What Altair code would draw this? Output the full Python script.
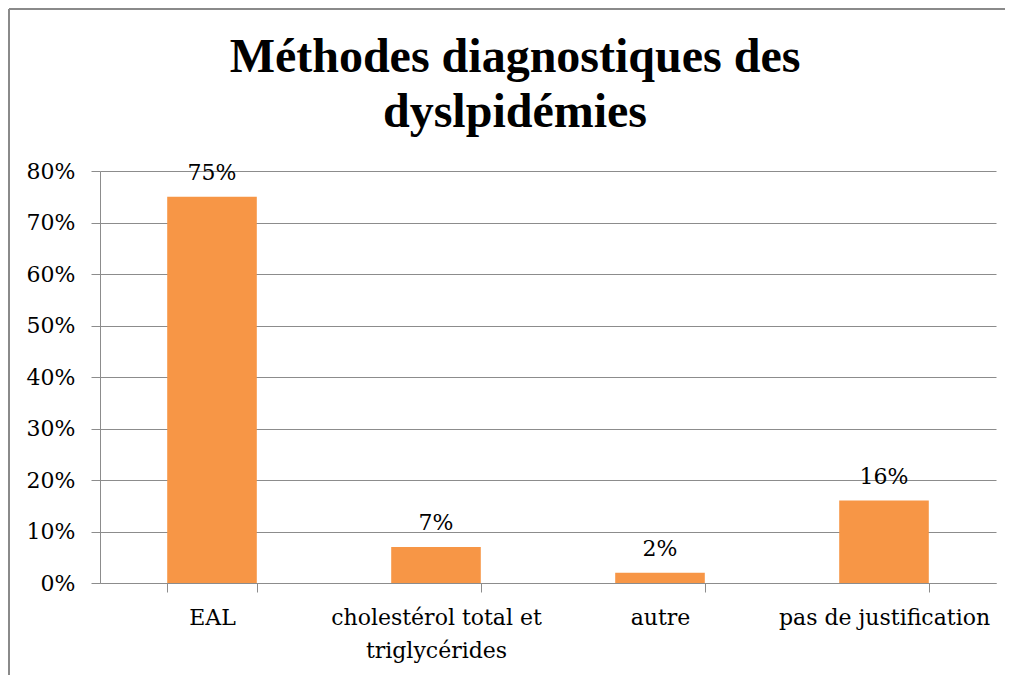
import altair as alt
import pandas as pd

categories = ["EAL", "cholestérol total et triglycérides", "autre", "pas de justification"]
values = [0.75, 0.07, 0.02, 0.16]
title_lines = ["Méthodes diagnostiques des", "dyslpidémies"]

df = pd.DataFrame({"cat": categories, "val": values})

FONT = "DejaVu Serif"
BAR = "#F79646"
GRID = "#8c8c8c"

label_expr = ("datum.label == 'cholestérol total et triglycérides' ? "
              "['cholestérol total et', 'triglycérides'] : datum.label")

x = alt.X("cat:N", sort=categories, title=None,
          scale=alt.Scale(paddingInner=0.6, paddingOuter=0.3),
          axis=alt.Axis(labelAngle=0, labelExpr=label_expr, tickBand="extent",
                        tickSize=9, labelPadding=15, labelLineHeight=33,
                        labelFont=FONT, labelFontSize=22, labelColor="black",
                        domainColor=GRID, tickColor=GRID, grid=False,
                        labelLimit=400))
y = alt.Y("val:Q", title=None,
          scale=alt.Scale(domain=[0, 0.8], nice=False),
          axis=alt.Axis(format=".0%", values=[i / 10 for i in range(9)],
                        tickSize=9, labelPadding=16,
                        labelFont=FONT, labelFontSize=22, labelColor="black",
                        domainColor=GRID, tickColor=GRID, gridColor=GRID,
                        gridWidth=1.2))

base = alt.Chart(df)
bars = base.mark_bar(color=BAR).encode(x=x, y=y)
labels = base.mark_text(font=FONT, fontSize=22, color="black",
                        baseline="alphabetic", dy=-17).encode(
    x=alt.X("cat:N", sort=categories), y="val:Q",
    text=alt.Text("val:Q", format=".0%"))

frame_top = alt.Chart(df).mark_rule(color="#8a8a8a", strokeWidth=2).encode(
    x=alt.value(-91), x2=alt.value(905), y=alt.value(-162))
frame_left = alt.Chart(df).mark_rule(color="#8a8a8a", strokeWidth=2).encode(
    x=alt.value(-91), y=alt.value(-162), y2=alt.value(504))

chart = alt.layer(frame_top, frame_left, bars, labels).properties(
    width=896, height=412,
    title=alt.TitleParams(title_lines, font="Liberation Serif", fontSize=48,
                          fontWeight="bold", color="black", lineHeight=55,
                          anchor="middle", frame="group", baseline="alphabetic",
                          dx=-33, dy=167, offset=0),
    autosize=alt.AutoSizeParams(type="none"),
    padding={"left": 92, "top": 163, "right": 9, "bottom": 92},
).configure_view(stroke=None)

chart.save("out.html", embed_options={"renderer": "svg", "actions": False})
